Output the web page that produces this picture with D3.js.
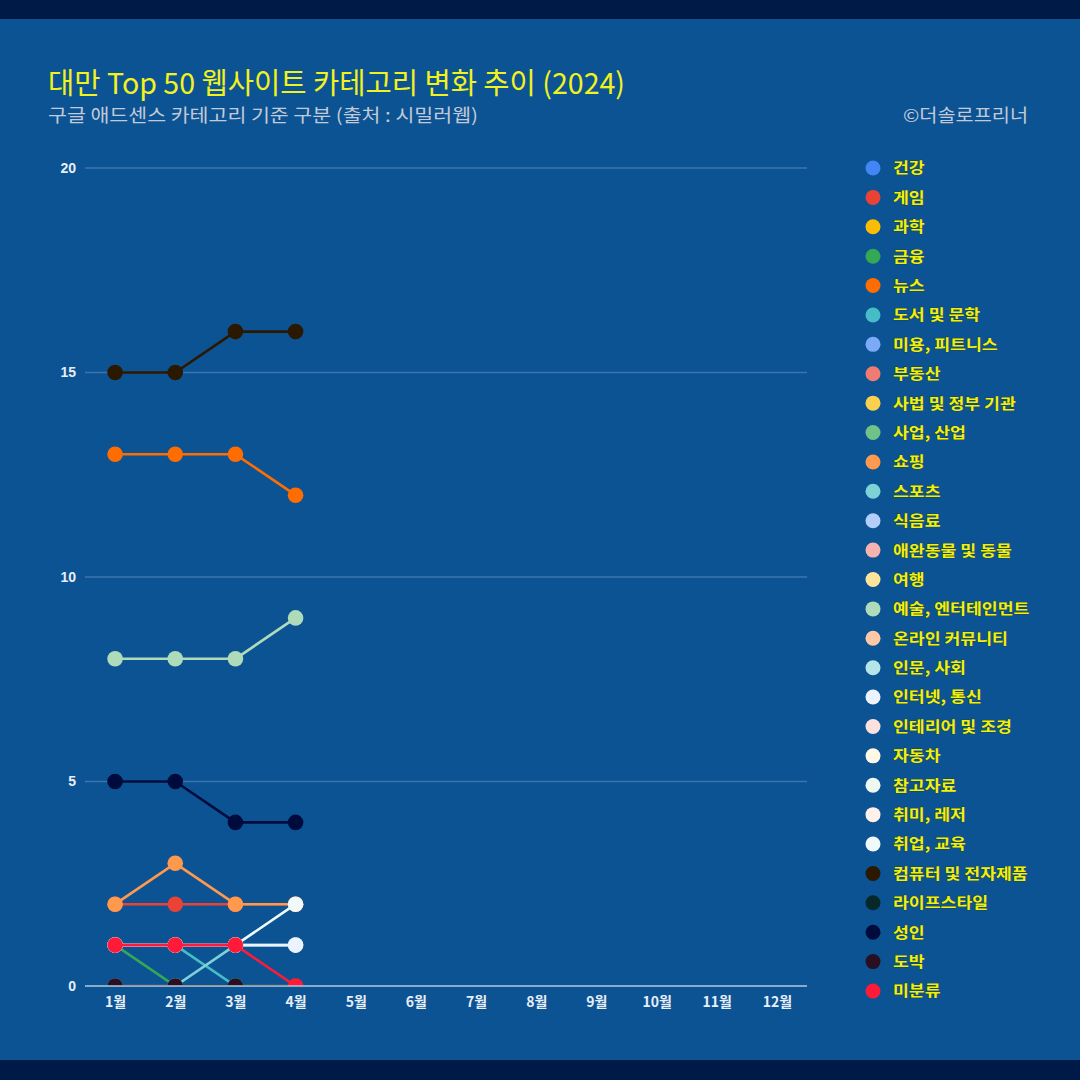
<!DOCTYPE html>
<html><head><meta charset="utf-8">
<script src="https://cdn.jsdelivr.net/npm/d3@7"></script>
<style>
html,body{margin:0;padding:0;background:#001a48;}
svg{display:block;}
</style></head>
<body>
<svg id="chart" width="1080" height="1080"></svg>
<script>
const months = ["1월","2월","3월","4월","5월","6월","7월","8월","9월","10월","11월","12월"];
const yTicks = [0,5,10,15,20];
const categories = ["건강","게임","과학","금융","뉴스","도서 및 문학","미용, 피트니스","부동산","사법 및 정부 기관","사업, 산업","쇼핑","스포츠","식음료","애완동물 및 동물","여행","예술, 엔터테인먼트","온라인 커뮤니티","인문, 사회","인터넷, 통신","인테리어 및 조경","자동차","참고자료","취미, 레저","취업, 교육","컴퓨터 및 전자제품","라이프스타일","성인","도박","미분류"];
const colors = ["#4285f4","#ea4335","#fbbc04","#34a853","#ff6d01","#46bdc6","#7baaf7","#f07b72","#fcd04f","#71c287","#ff994d","#7ed1d7","#b3cefb","#f7b4ae","#fde49b","#aedcba","#ffc8a6","#b5e5e9","#ecf3fe","#fde1df","#fff8e6","#eef8f1","#fff1ea","#f0fafb","#2b1800","#05292b","#000b3d","#2a0f22","#ff1a3a"];
// monthly values (null = no data)
const v_게임 = [2,2,2,2];
const v_금융 = [1,0,0,0];
const v_뉴스 = [13,13,13,12];
const v_도서 = [1,1,0,0];
const v_쇼핑 = [2,3,2,2];
const v_스포츠 = [0,0,1,1];
const v_예술 = [8,8,8,9];
const v_인터넷 = [1,1,1,1];
const v_취업 = [1,1,1,2];
const v_컴퓨터 = [15,15,16,16];
const v_성인 = [5,5,4,4];
const v_도박 = [0,0,0,0];
const v_미분류 = [1,1,1,0];
const seriesValues = {
  "게임":v_게임,"금융":v_금융,"뉴스":v_뉴스,"도서 및 문학":v_도서,"쇼핑":v_쇼핑,"스포츠":v_스포츠,
  "예술, 엔터테인먼트":v_예술,"인터넷, 통신":v_인터넷,"취업, 교육":v_취업,"컴퓨터 및 전자제품":v_컴퓨터,
  "성인":v_성인,"도박":v_도박,"미분류":v_미분류
};

const svg = d3.select("#chart");
const W=1080,H=1080;
svg.append("rect").attr("width",W).attr("height",H).attr("fill","#001a48");
svg.append("rect").attr("x",0).attr("y",19).attr("width",W).attr("height",1041).attr("fill","#0c5394");

const font = "'Noto Sans CJK KR','Noto Sans',sans-serif";
svg.append("text").attr("x",48).attr("y",94).attr("font-family",font).attr("font-size",29)
  .attr("fill","#f2f21c").attr("textLength",577).attr("lengthAdjust","spacingAndGlyphs")
  .text("대만 Top 50 웹사이트 카테고리 변화 추이 (2024)");
svg.append("text").attr("x",48).attr("y",122).attr("font-family",font).attr("font-size",18)
  .attr("fill","#c3cad6").attr("textLength",430).attr("lengthAdjust","spacingAndGlyphs")
  .text("구글 애드센스 카테고리 기준 구분 (출처 : 시밀러웹)");
svg.append("text").attr("x",1028).attr("y",122).attr("font-family",font).attr("font-size",18)
  .attr("fill","#c3cad6").attr("text-anchor","end").attr("textLength",125).attr("lengthAdjust","spacingAndGlyphs")
  .text("©더솔로프리너");

const x = d3.scalePoint().domain(months).range([85,807]).padding(0.5);
const y = d3.scaleLinear().domain([0,20]).range([986,168]);

// grid
const yAxis = d3.axisLeft(y).tickValues(yTicks).tickSize(0).tickPadding(0).tickFormat(d3.format("d"));
const ga = svg.append("g").attr("transform","translate(76,0)").call(yAxis);
ga.select(".domain").remove();
ga.selectAll("text").attr("font-family","'Liberation Sans',Arial,sans-serif").attr("font-size",14)
  .attr("font-weight","bold").attr("fill","#e8eef6").attr("text-anchor","end");
svg.append("g").selectAll("line").data(yTicks.filter(d=>d>0)).join("line")
  .attr("x1",85).attr("x2",807).attr("y1",d=>y(d)).attr("y2",d=>y(d))
  .attr("stroke","#3c74ad").attr("stroke-width",1.5);

// clip
svg.append("defs").append("clipPath").attr("id","plot").append("rect")
  .attr("x",60).attr("y",150).attr("width",760).attr("height",836);

const plot = svg.append("g").attr("clip-path","url(#plot)");
const line = d3.line().defined(d=>d.v!=null).x(d=>x(d.m)).y(d=>y(d.v));
categories.forEach((c,i)=>{
  const vals = seriesValues[c];
  if(!vals) return;
  const pts = vals.map((v,j)=>({m:months[j],v}));
  const g = plot.append("g");
  g.append("path").datum(pts).attr("d",line).attr("fill","none")
    .attr("stroke",colors[i]).attr("stroke-width",2.6).attr("stroke-linejoin","round");
  g.selectAll("circle").data(pts.filter(d=>d.v!=null)).join("circle")
    .attr("cx",d=>x(d.m)).attr("cy",d=>y(d.v)).attr("r",7.8).attr("fill",colors[i]);
});

// baseline + x axis
svg.append("line").attr("x1",85).attr("x2",807).attr("y1",y(0)).attr("y2",y(0))
  .attr("stroke","#b7c7db").attr("stroke-width",1.6);
const xAxis = d3.axisBottom(x).tickSize(0).tickPadding(0);
const gx = svg.append("g").attr("transform",`translate(0,${y(0)+21})`).call(xAxis);
gx.select(".domain").remove();
gx.selectAll("text").attr("font-family",font).attr("font-size",14).attr("font-weight","bold")
  .attr("fill","#e8eef6").attr("dy","0");

// legend
const lg = svg.append("g");
const ly = d3.scalePoint().domain(categories).range([168,991]);
const items = lg.selectAll("g").data(categories).join("g")
  .attr("transform",d=>`translate(873,${ly(d)})`);
items.append("circle").attr("r",7.5).attr("fill",(d,i)=>colors[i]);
items.append("text").attr("transform","translate(20,0) scale(1.15,1)").attr("dy","0.36em").attr("font-family",font)
  .attr("font-size",15).attr("font-weight","bold").attr("fill","#f0f010")
  .attr("stroke","#2a3a10").attr("stroke-width",0.6).attr("paint-order","stroke")
  .text(d=>d);
</script>
</body></html>
